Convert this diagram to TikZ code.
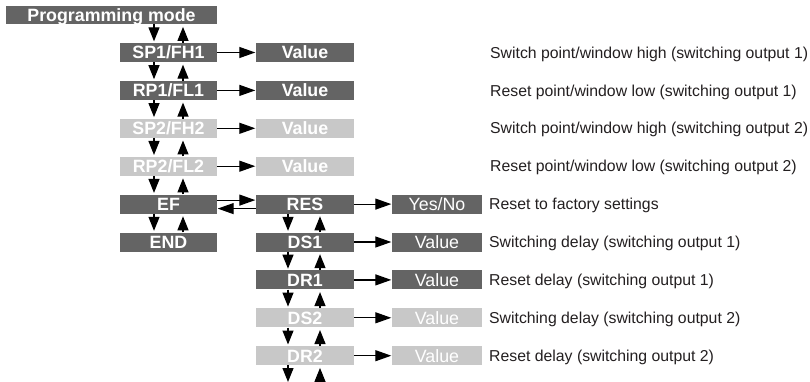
\documentclass[tikz,border=0pt]{standalone}
\usepackage{fontspec}
\setmainfont{Liberation Sans}
\usetikzlibrary{arrows.meta}
\definecolor{dk}{HTML}{646464}
\definecolor{lt}{HTML}{C8C8C8}
\definecolor{txt}{HTML}{231F20}
\begin{document}
\begin{tikzpicture}[x=1pt,y=-1pt,
 box/.style={rectangle, inner sep=0pt, minimum height=19pt, text=white, font=\fontsize{17.8}{17.8}\selectfont\bfseries, text height=12.7pt, text depth=0pt},
 key/.style={box, minimum width=97pt},
 val/.style={box, minimum width=98pt},
 yn/.style={box, minimum width=90pt, font=\fontsize{17.8}{17.8}\selectfont},
 dark/.style={fill=dk}, light/.style={fill=lt},
 desc/.style={anchor=west, inner sep=0pt, text=txt, font=\fontsize{15.8}{15.8}\selectfont, text height=11.3pt, text depth=0pt},
 arr/.style={line width=1.2pt, -{Triangle[length=16pt,width=11pt]}, shorten >=0.5pt},
 varr/.style={line width=1.2pt, -{Triangle[length=14pt,width=11pt]}}
]
\useasboundingbox (0,0) rectangle (810,382);
% left column
\node[box, dark, minimum width=211pt, minimum height=18pt] (pm) at (111.5,15.2) {Programming mode};
\node[key, dark] (sp1) at (168.5,52.5) {SP1/FH1};
\node[key, dark] (rp1) at (168.5,90.4) {RP1/FL1};
\node[key, light] (sp2) at (168.5,128.3) {SP2/FH2};
\node[key, light] (rp2) at (168.5,166.2) {RP2/FL2};
\node[key, dark] (ef) at (168.5,204.1) {EF};
\node[key, dark] (end) at (168.5,242) {END};
% value column
\node[val, dark] (v1) at (305,52.5) {Value};
\node[val, dark] (v2) at (305,90.4) {Value};
\node[val, light] (v3) at (305,128.3) {Value};
\node[val, light] (v4) at (305,166.2) {Value};
\node[val, dark] (res) at (305,204.1) {RES};
\node[val, dark] (ds1) at (305,242) {DS1};
\node[val, dark] (dr1) at (305,279.9) {DR1};
\node[val, light] (ds2) at (305,317.8) {DS2};
\node[val, light] (dr2) at (305,355.7) {DR2};
% third column
\node[yn, dark] (yn) at (437,204.1) {Yes/No};
\node[yn, dark] (w1) at (437,242) {Value};
\node[yn, dark] (w2) at (437,279.9) {Value};
\node[yn, light] (w3) at (437,317.8) {Value};
\node[yn, light] (w4) at (437,355.7) {Value};
% descriptions
\node[desc] (d1) at (490,52.5) {Switch point/window high (switching output 1)};
\node[desc] (d2) at (490,90.4) {Reset point/window low (switching output 1)};
\node[desc] (d3) at (490,128.3) {Switch point/window high (switching output 2)};
\node[desc] (d4) at (490,166.2) {Reset point/window low (switching output 2)};
\node[desc] (d5) at (489,204.1) {Reset to factory settings};
\node[desc] (d6) at (489,242) {Switching delay (switching output 1)};
\node[desc] (d7) at (489,279.9) {Reset delay (switching output 1)};
\node[desc] (d8) at (489,317.8) {Switching delay (switching output 2)};
\node[desc] (d9) at (489,355.7) {Reset delay (switching output 2)};
% helper coordinates
\coordinate (ld) at (154,0);
\coordinate (lu) at (183,0);
\coordinate (rd) at (288,0);
\coordinate (ru) at (320,0);
\coordinate (bot) at (0,382);
% vertical arrows left
\foreach \a/\b in {pm/sp1, sp1/rp1, rp1/sp2, sp2/rp2, rp2/ef, ef/end}{
  \draw[varr, shorten >=1.5pt] (\a.south -| ld) -- (\b.north -| ld);
  \draw[varr, shorten >=2.5pt] (\b.north -| lu) -- (\a.south -| lu);
}
% vertical arrows right
\foreach \a/\b in {res/ds1, ds1/dr1, dr1/ds2, ds2/dr2}{
  \draw[varr, shorten >=1.5pt] (\a.south -| rd) -- (\b.north -| rd);
  \draw[varr, shorten >=2.5pt] (\b.north -| ru) -- (\a.south -| ru);
}
\draw[varr] (dr2.south -| rd) -- (bot -| rd);
\draw[varr, shorten >=2.5pt] (bot -| ru) -- (dr2.south -| ru);
% horizontal arrows
\draw[arr] (sp1) -- (v1);
\draw[arr] (rp1) -- (v2);
\draw[arr] (sp2) -- (v3);
\draw[arr] (rp2) -- (v4);
\draw[arr] (res) -- (yn);
\draw[arr] (ds1) -- (w1);
\draw[arr] (dr1) -- (w2);
\draw[arr] (ds2) -- (w3);
\draw[arr] (dr2) -- (w4);
\draw[arr] ([yshift=4pt]ef.east) -- ([yshift=4pt]res.west);
\draw[arr] ([yshift=-4.5pt]res.west) -- ([yshift=-4.5pt]ef.east);
\end{tikzpicture}
\end{document}
